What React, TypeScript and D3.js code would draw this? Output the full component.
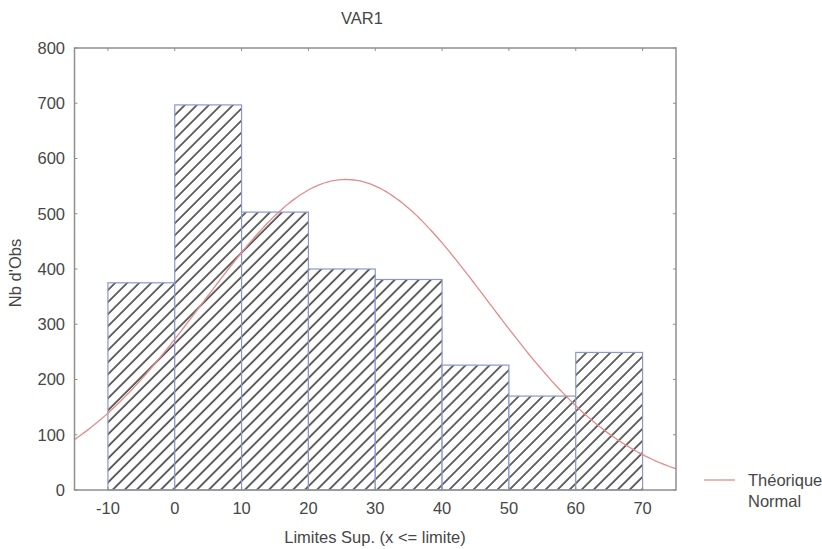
import React from "react";
import * as d3 from "d3";

const binLower = [-10, 0, 10, 20, 30, 40, 50, 60];
const binCounts = [375, 697, 503, 400, 381, 226, 170, 249];
const binWidth = 10;
const xTicks = [-10, 0, 10, 20, 30, 40, 50, 60, 70];
const yTicks = [0, 100, 200, 300, 400, 500, 600, 700, 800];
const normalMean = 25.6;
const normalSd = 21.3;

const W = 822;
const H = 549;
const M = { left: 74.5, right: 676, top: 48, bottom: 490 };
const FONT = "'Liberation Sans', Arial, sans-serif";
const TXT = "#474747";

export default function App() {
  const x = d3.scaleLinear().domain([-15, 75]).range([M.left, M.right]);
  const y = d3.scaleLinear().domain([0, 800]).range([M.bottom, M.top]);
  const total = d3.sum(binCounts);
  const norm = (v: number) =>
    (total * binWidth) / (normalSd * Math.sqrt(2 * Math.PI)) *
    Math.exp(-0.5 * ((v - normalMean) / normalSd) ** 2);
  const xs = d3.range(-15, 75.01, 0.5);
  const line = d3
    .line<number>()
    .x((d) => x(d))
    .y((d) => y(norm(d)))
    .curve(d3.curveBasis);

  return (
    <svg
      width={W}
      height={H}
      style={{ position: "absolute", left: 0, top: 0, background: "#fff" }}
      fontFamily={FONT}
    >
      <defs>
        <pattern
          id="hatch"
          patternUnits="userSpaceOnUse"
          width={8.5}
          height={8.5}
          patternTransform="rotate(45)"
        >
          <rect width={8.5} height={8.5} fill="#fff" />
          <line x1={1} y1={0} x2={1} y2={8.5} stroke="#333" strokeWidth={1.5} />
        </pattern>
        <clipPath id="plotclip">
          <rect x={M.left} y={M.top} width={M.right - M.left} height={M.bottom - M.top} />
        </clipPath>
      </defs>
      <rect width={W} height={H} fill="#fff" />
      <text x={362} y={24} textAnchor="middle" fontSize={16.5} fill={TXT}>
        VAR1
      </text>
      {binLower.map((b, i) => (
        <rect
          key={i}
          x={x(b)}
          y={y(binCounts[i])}
          width={x(b + binWidth) - x(b)}
          height={y(0) - y(binCounts[i])}
          fill="url(#hatch)"
          stroke="#8a98cc"
          strokeWidth={1.2}
        />
      ))}
      <path
        d={line(xs) || ""}
        fill="none"
        stroke="#e38c8c"
        strokeWidth={1.3}
        clipPath="url(#plotclip)"
      />
      <rect
        x={M.left}
        y={M.top}
        width={M.right - M.left}
        height={M.bottom - M.top}
        fill="none"
        stroke="#8f8f8f"
        strokeWidth={1.5}
      />
      {yTicks.map((t) => (
        <g key={"y" + t}>
          <line x1={M.left} x2={M.left + 3} y1={y(t)} y2={y(t)} stroke="#8f8f8f" />
          <line x1={M.right} x2={M.right - 3} y1={y(t)} y2={y(t)} stroke="#8f8f8f" />
          <text
            x={65}
            y={y(t)}
            dy="0.35em"
            textAnchor="end"
            fontSize={16.5}
            fill={TXT}
          >
            {t}
          </text>
        </g>
      ))}
      {xTicks.map((t) => (
        <g key={"x" + t}>
          <line x1={x(t)} x2={x(t)} y1={M.top} y2={M.top + 3} stroke="#8f8f8f" />
          <line x1={x(t)} x2={x(t)} y1={M.bottom} y2={M.bottom - 3} stroke="#8f8f8f" />
          <text
            x={x(t)}
            y={508}
            dy="0.35em"
            textAnchor="middle"
            fontSize={16.5}
            fill={TXT}
          >
            {t}
          </text>
        </g>
      ))}
      <text x={375} y={537} dy="0.35em" textAnchor="middle" fontSize={16.5} fill={TXT}>
        Limites Sup. (x &lt;= limite)
      </text>
      <text
        transform={`translate(15, ${(M.top + M.bottom) / 2 + 4}) rotate(-90)`}
        textAnchor="middle"
        dy="0.35em"
        fontSize={16.5}
        fill={TXT}
      >
        Nb d'Obs
      </text>
      <line x1={704} x2={735} y1={480} y2={480} stroke="#e38c8c" strokeWidth={1.3} />
      <text x={748} y={480} dy="0.35em" fontSize={16.5} fill={TXT}>
        Théorique
      </text>
      <text x={748} y={501} dy="0.35em" fontSize={16.5} fill={TXT}>
        Normal
      </text>
    </svg>
  );
}
